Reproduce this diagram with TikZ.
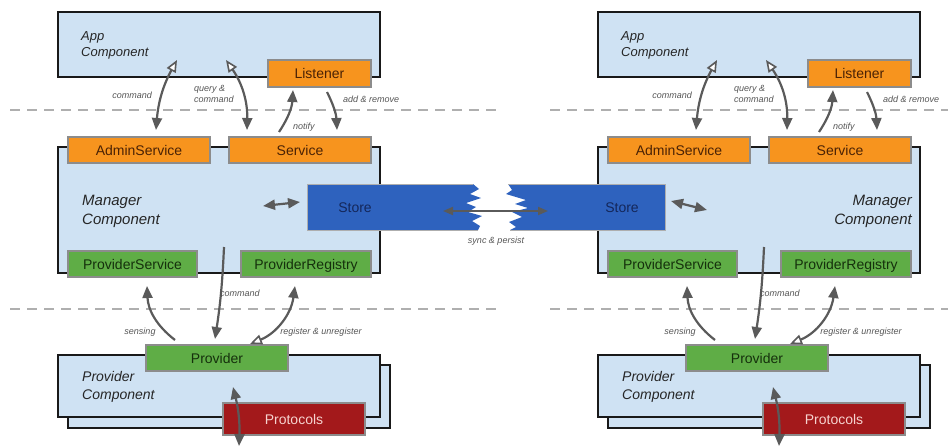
\documentclass[tikz,border=0pt]{standalone}
\usepackage{fontspec}
\setmainfont{Liberation Sans}
\usetikzlibrary{arrows.meta,calc}
\definecolor{compfill}{HTML}{CFE2F3}
\definecolor{orangefill}{HTML}{F7941E}
\definecolor{orangetext}{HTML}{4A2205}
\definecolor{greenfill}{HTML}{5FAD46}
\definecolor{greentext}{HTML}{15300C}
\definecolor{storefill}{HTML}{2E62BE}
\definecolor{storetext}{HTML}{14275A}
\definecolor{redfill}{HTML}{A3191B}
\definecolor{redtext}{HTML}{F6D3CF}
\definecolor{boxedge}{HTML}{8C8C8C}
\definecolor{arrowgray}{HTML}{5A5A5A}
\definecolor{labelgray}{HTML}{555555}
\definecolor{dashgray}{HTML}{AFAFAF}
\tikzset{
  compbox/.style={draw=black!90, line width=2pt, fill=compfill, inner sep=0pt, minimum width=322pt},
  cbox/.style={draw=boxedge, line width=1.5pt, inner sep=0pt, text height=10pt, text depth=0pt, font=\fontsize{14}{16}\selectfont},
  orangebox/.style={cbox, fill=orangefill, text=orangetext},
  greenbox/.style={cbox, fill=greenfill, text=greentext},
  redbox/.style={cbox, fill=redfill, text=redtext},
  lbl/.style={font=\itshape\fontsize{9}{10.5}\selectfont, text=labelgray, align=left, inner sep=0pt},
  comptxt/.style={font=\itshape\fontsize{14}{18}\selectfont, text=black!85, inner sep=0pt},
  dline/.style={draw=dashgray, line width=2pt, dash pattern=on 10pt off 7pt},
  arr/.style={draw=arrowgray, line width=2.2pt},
  fh/.tip={Triangle[length=12pt,width=10pt]},
  oh/.tip={Triangle[length=12pt,width=10pt,fill=white,line width=1.6pt]},
}
\begin{document}
\begin{tikzpicture}[x=1pt,y=-1pt]
\useasboundingbox (0,0) rectangle (948,447);
% dashed separators
\draw[dline] (10,110) -- (500,110);
\draw[dline] (550,110) -- (948,110);
\draw[dline] (10,309) -- (500,309);
\draw[dline] (550,309) -- (948,309);

\foreach \s/\dx in {1/0,2/540}{
\begin{scope}[xshift=\dx]
  % App component
  \node[compbox, minimum height=65pt] (app\s) at (219,44.5) {};
  \node[orangebox, minimum width=103pt, minimum height=27pt] (listener\s) at (319.5,73.5) {Listener};
  % Manager component
  \node[compbox, minimum height=126pt] (mgr\s) at (219,210) {};
  \node[orangebox, minimum width=142pt, minimum height=26pt] (admin\s) at (139,150) {AdminService};
  \node[orangebox, minimum width=142pt, minimum height=26pt] (service\s) at (300,150) {Service};
  \node[greenbox, minimum width=129pt, minimum height=26pt] (provsvc\s) at (132.5,264) {ProviderService};
  \node[greenbox, minimum width=130pt, minimum height=26pt] (provreg\s) at (306,264) {ProviderRegistry};
\end{scope}
}

% Stores (torn)
\fill[storefill] (307,184) -- (473,184) -- (479,189) -- (470,194) -- (481,198) -- (466,203) -- (476,207) -- (468,212) -- (482,216) -- (472,221) -- (480,226) -- (478,230) -- (307,230) -- cycle;
\draw[boxedge!70, line width=1pt] (473,184) -- (307,184) -- (307,230) -- (478,230);
\node[font=\fontsize{14}{16}\selectfont, text=storetext, inner sep=0pt, text height=10pt, text depth=0pt] (store1) at (355,207) {Store};
\fill[storefill] (508,184) -- (665,184) -- (665,230) -- (510,230) -- (516,227) -- (509,222) -- (522,217) -- (512,212) -- (528,208) -- (515,204) -- (526,200) -- (506,194) -- (512,190) -- cycle;
\draw[boxedge!70, line width=1pt] (508,184) -- (665,184) -- (665,230) -- (510,230);
\node[font=\fontsize{14}{16}\selectfont, text=storetext, inner sep=0pt, text height=10pt, text depth=0pt] (store2) at (622,207) {Store};

\foreach \s/\dx in {1/0,2/540}{
\begin{scope}[xshift=\dx]
  % Provider component
  \node[compbox, minimum height=63pt] (pcback\s) at (229,396.5) {};
  \node[compbox, minimum height=62pt] (pc\s) at (219,386) {};
  \node[greenbox, minimum width=142pt, minimum height=26pt] (provider\s) at (217,358) {Provider};
  \node[redbox, minimum width=142pt, minimum height=32pt] (protocols\s) at (294,419) {Protocols};
  \node[comptxt, anchor=west, align=left] (pctxt\s) at (82,387) {Provider\\Component};
  \node[comptxt, anchor=west, align=left, font=\itshape\fontsize{13}{16}\selectfont] (apptxt\s) at (81,45) {App\\Component};
  % arrow end points
  \coordinate (c1t\s) at (177,60);  \coordinate (c1b\s) at (156,130);
  \coordinate (q1t\s) at (226,60);  \coordinate (q1b\s) at (247,130);
  \coordinate (n1b\s) at (279,132); \coordinate (n1t\s) at (293,90);
  \coordinate (r1t\s) at (327,92);  \coordinate (r1b\s) at (337,130);
  \coordinate (m1t\s) at (224,247); \coordinate (m1b\s) at (215,339);
  \coordinate (s1b\s) at (175,340); \coordinate (s1t\s) at (147,286);
  \coordinate (g1b\s) at (250,344); \coordinate (g1t\s) at (295,286);
  \coordinate (p1t\s) at (233,387); \coordinate (p1b\s) at (239,446);
  % arrows
  \draw[arr, oh-fh] (c1t\s) to[bend right=12] (c1b\s);
  \draw[arr, oh-fh] (q1t\s) to[bend left=18] (q1b\s);
  \draw[arr, -fh] (n1b\s) to[bend right=15] (n1t\s);
  \draw[arr, -fh] (r1t\s) to[bend left=12] (r1b\s);
  \draw[arr, -fh] (m1t\s) to[bend left=3] (m1b\s);
  \draw[arr, -fh] (s1b\s) to[bend left=25] (s1t\s);
  \draw[arr, oh-fh] (g1b\s) to[bend right=30] (g1t\s);
  \draw[arr, fh-fh] (p1t\s) to[bend left=8] (p1b\s);
  % labels
  \node[lbl, anchor=east] (lc\s) at (152,95) {command};
  \node[lbl, anchor=west] (lq\s) at (194,94) {query \&\\command};
  \node[lbl, anchor=west] (la\s) at (343,99) {add \& remove};
  \node[lbl, anchor=west] (ln\s) at (293,127) {notify};
  \node[lbl, anchor=west] (lm\s) at (220,293) {command};
  \node[lbl] (ls\s) at (140,332) {sensing};
  \node[lbl] (lr\s) at (321,332) {register \& unregister};
\end{scope}
}

% Manager texts
\node[comptxt, anchor=west, align=left, font=\itshape\fontsize{15}{19}\selectfont] (mgrtxt1) at (82,211.5) {Manager\\Component};
\node[comptxt, anchor=east, align=right, font=\itshape\fontsize{15}{19}\selectfont] (mgrtxt2) at (912,211.5) {Manager\\Component};

% store arrows
\coordinate (sa1) at (263,206); \coordinate (sa2) at (300,202);
\coordinate (sb1) at (671,201); \coordinate (sb2) at (707,210);
\draw[arr, fh-fh] (sa1) -- (sa2);
\draw[arr, fh-fh] (sb1) -- (sb2);
% sync arrow
\coordinate (sy1) at (443,211); \coordinate (sy2) at (548,211);
\draw[arr, line width=1.8pt, {Triangle[length=10pt,width=8pt]}-{Triangle[length=10pt,width=8pt]}] (sy1) -- (sy2);
\node[lbl] (lsync) at (496,241) {sync \& persist};
\end{tikzpicture}
\end{document}
